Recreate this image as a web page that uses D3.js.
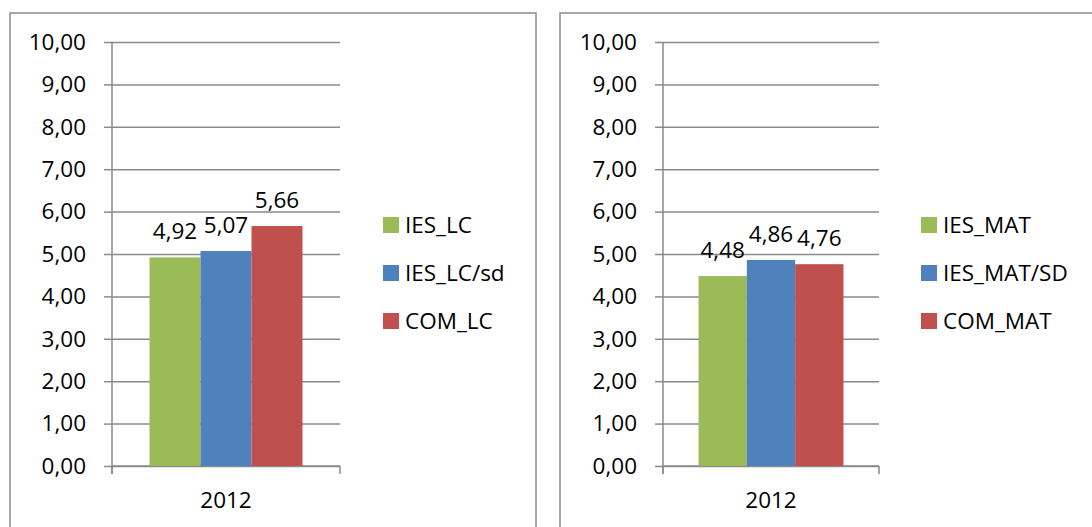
<!DOCTYPE html>
<html lang="en">
<head>
    <meta charset="UTF-8">
    <title>IES 2012</title>
    <style>
        body { margin: 0; background: #fff; }
        svg text { font-family: "Open Sans", sans-serif; font-size: 22.5px; fill: #000; }
    </style>
</head>
<body>
    <script src="https://cdn.jsdelivr.net/npm/d3@7"></script>
    <svg id="mysvg" width="1092" height="527"></svg>
    <script>
        // data
        var categories = ["2012"];
        var seriesLC = ["IES_LC", "IES_LC/sd", "COM_LC"];
        var valuesLC = [4.92, 5.07, 5.66];
        var seriesMAT = ["IES_MAT", "IES_MAT/SD", "COM_MAT"];
        var valuesMAT = [4.48, 4.86, 4.76];
        var yTicks = [0, 1, 2, 3, 4, 5, 6, 7, 8, 9, 10];
        var colors = ["#9bbb59", "#4f81bd", "#c0504d"];

        var locale = d3.formatLocale({decimal: ",", thousands: ".", grouping: [3], currency: ["", ""]});
        var fmt = locale.format(".2f");

        var svg = d3.select("#mysvg");
        var gridColor = "#8a8a8a";

        // one panel per chart
        var panels = [
            {series: seriesLC, values: valuesLC, box: [10, 13, 526, 540], x0: 112, x1: 340, legX: 383},
            {series: seriesMAT, values: valuesMAT, box: [560, 13, 560, 540], x0: 663, x1: 879, legX: 921}
        ];

        var y = d3.scaleLinear().domain([0, 10]).range([466, 42]);

        panels.forEach(function(p) {
            var g = svg.append("g");

            // outer frame
            g.append("rect")
                .attr("x", p.box[0]).attr("y", p.box[1])
                .attr("width", p.box[2]).attr("height", p.box[3])
                .attr("fill", "none")
                .attr("stroke", "#8c8c8c")
                .attr("stroke-width", 1.5);

            // gridlines
            g.append("g")
                .attr("transform", "translate(" + p.x0 + ",0)")
                .call(d3.axisLeft(y).tickValues(yTicks).tickSize(-(p.x1 - p.x0)).tickFormat(""))
                .call(function(a) {
                    a.select(".domain").remove();
                    a.selectAll("line").attr("stroke", gridColor).attr("stroke-width", 1.5);
                });

            // y axis with labels
            g.append("g")
                .attr("transform", "translate(" + p.x0 + ",0)")
                .call(d3.axisLeft(y).tickValues(yTicks).tickSize(8).tickSizeOuter(0).tickPadding(18).tickFormat(fmt))
                .call(function(a) {
                    a.attr("font-size", null).attr("font-family", null);
                    a.select(".domain").attr("stroke", gridColor).attr("stroke-width", 1.5)
                        .attr("d", "M0,42V474");
                    a.selectAll("line").attr("stroke", gridColor).attr("stroke-width", 1.5);
                });

            // category axis
            var x = d3.scaleBand().domain(categories).range([p.x0, p.x1]);
            var xg = g.append("g");
            xg.append("line")
                .attr("x1", p.x0).attr("x2", p.x1)
                .attr("y1", y(0)).attr("y2", y(0))
                .attr("stroke", gridColor).attr("stroke-width", 1.5);
            xg.selectAll(".bound").data(x.range()).enter().append("line")
                .attr("x1", function(d) { return d; }).attr("x2", function(d) { return d; })
                .attr("y1", y(0)).attr("y2", y(0) + 8)
                .attr("stroke", gridColor).attr("stroke-width", 1.5);
            xg.selectAll(".cat").data(categories).enter().append("text")
                .attr("x", function(d) { return x(d) + x.bandwidth() / 2; })
                .attr("y", 508)
                .attr("text-anchor", "middle")
                .text(function(d) { return d; });

            // bars
            var gw = x.bandwidth() * 0.671;
            var cx = x(categories[0]) + x.bandwidth() / 2;
            var xs = d3.scaleBand().domain(p.series).range([cx - gw / 2, cx + gw / 2]);

            var rows = p.series.map(function(s, i) { return {name: s, value: p.values[i], color: colors[i]}; });

            g.selectAll(".bar").data(rows).enter().append("rect")
                .attr("x", function(d) { return xs(d.name); })
                .attr("y", function(d) { return y(d.value); })
                .attr("width", xs.bandwidth())
                .attr("height", function(d) { return y(0) - y(d.value); })
                .attr("fill", function(d) { return d.color; });

            g.selectAll(".lbl").data(rows).enter().append("text")
                .attr("x", function(d) { return xs(d.name) + xs.bandwidth() / 2; })
                .attr("y", function(d) { return y(d.value) - 18; })
                .attr("text-anchor", "middle")
                .text(function(d) { return fmt(d.value); });

            // legend
            var leg = g.selectAll(".leg").data(rows).enter().append("g")
                .attr("transform", function(d, i) { return "translate(" + p.legX + "," + (225 + i * 48) + ")"; });
            leg.append("rect")
                .attr("x", 0).attr("y", -8)
                .attr("width", 16).attr("height", 16)
                .attr("fill", function(d) { return d.color; });
            leg.append("text")
                .attr("x", 22).attr("y", 0).attr("dy", "0.35em")
                .text(function(d) { return d.name; });
        });
    </script>
</body>
</html>
